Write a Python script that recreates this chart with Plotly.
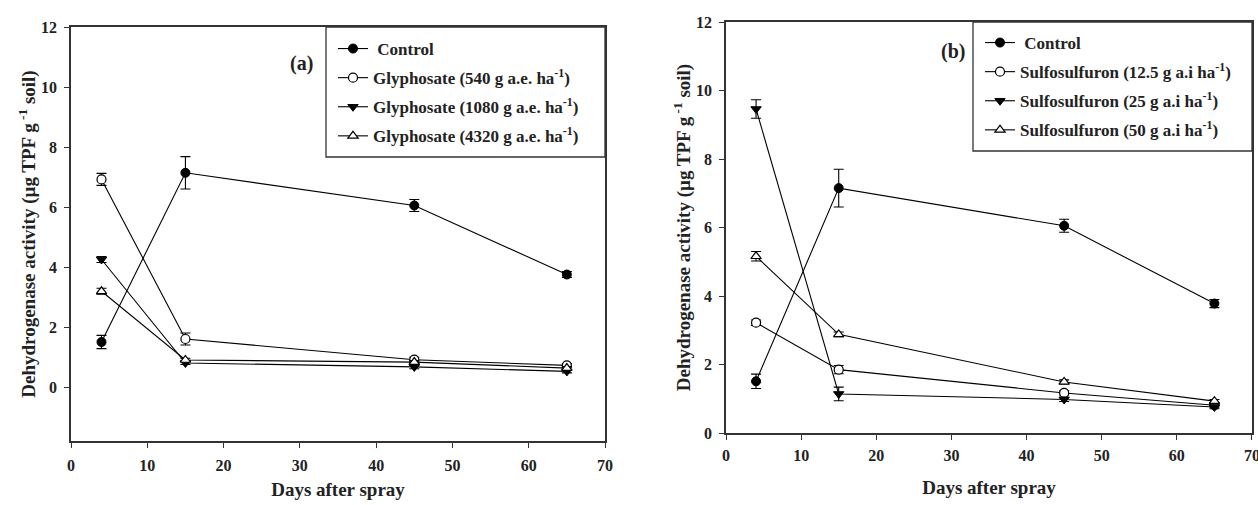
import plotly.graph_objects as go

days = [4, 15, 45, 65]

# Panel (a) - Glyphosate
a_names = ["&nbsp;Control",
           "Glyphosate (540 g a.e. ha<sup>-1</sup>)",
           "Glyphosate (1080 g a.e. ha<sup>-1</sup>)",
           "Glyphosate (4320 g a.e. ha<sup>-1</sup>)"]
a_control = [1.50, 7.14, 6.05, 3.75]
a_control_err = [0.22, 0.54, 0.20, 0.10]
a_gly540 = [6.92, 1.60, 0.91, 0.72]
a_gly540_err = [0.20, 0.20, 0.08, 0.06]
a_gly1080 = [4.25, 0.80, 0.67, 0.52]
a_gly1080_err = [0.10, 0.05, 0.06, 0.05]
a_gly4320 = [3.19, 0.90, 0.83, 0.63]
a_gly4320_err = [0.10, 0.06, 0.05, 0.05]

# Panel (b) - Sulfosulfuron
b_names = ["&nbsp;Control",
           "Sulfosulfuron (12.5 g a.i ha<sup>-1</sup>)",
           "Sulfosulfuron (25 g a.i ha<sup>-1</sup>)",
           "Sulfosulfuron (50 g a.i ha<sup>-1</sup>)"]
b_control = [1.51, 7.15, 6.05, 3.78]
b_control_err = [0.21, 0.55, 0.19, 0.12]
b_sul125 = [3.22, 1.85, 1.17, 0.81]
b_sul125_err = [0.08, 0.12, 0.06, 0.05]
b_sul25 = [9.46, 1.14, 0.98, 0.76]
b_sul25_err = [0.27, 0.20, 0.06, 0.05]
b_sul50 = [5.16, 2.88, 1.49, 0.93]
b_sul50_err = [0.14, 0.07, 0.06, 0.05]

x_ticks = [0, 10, 20, 30, 40, 50, 60, 70]
y_ticks = [0, 2, 4, 6, 8, 10, 12]

FONT = "Liberation Serif"
W, H = 1258, 505

symbols = [
    dict(symbol="circle", color="black", line=dict(color="black", width=1)),
    dict(symbol="circle", color="white", line=dict(color="black", width=1.2)),
    dict(symbol="triangle-down", color="black", line=dict(color="black", width=1)),
    dict(symbol="triangle-up", color="white", line=dict(color="black", width=1.2)),
]

fig = go.Figure()

def add_panel(names, ys, errs, xa, ya, legend):
    for i, (nm, y, e) in enumerate(zip(names, ys, errs)):
        m = symbols[i]
        fig.add_trace(go.Scatter(
            x=days, y=y, name=nm, mode="lines+markers",
            xaxis=xa, yaxis=ya, legend=legend,
            legendgroup=legend + str(i),
            line=dict(color="black", width=1.1),
            marker=dict(symbol=m["symbol"], size=9, color=m["color"], line=m["line"]),
            error_y=dict(type="data", array=e, visible=True, color="black",
                         thickness=1.1, width=5),
        ))

add_panel(a_names, [a_control, a_gly540, a_gly1080, a_gly4320],
          [a_control_err, a_gly540_err, a_gly1080_err, a_gly4320_err], "x", "y", "legend")
add_panel(b_names, [b_control, b_sul125, b_sul25, b_sul50],
          [b_control_err, b_sul125_err, b_sul25_err, b_sul50_err], "x2", "y2", "legend2")

def px_x(p):
    return p / W

def px_y(p):
    return 1 - p / H

axis_common = dict(showline=True, linecolor="#333", linewidth=1.5, mirror=True,
                   ticks="outside", ticklen=5, tickwidth=1.2, tickcolor="#333",
                   showgrid=False, zeroline=False, automargin=False,
                   ticklabeloverflow="allow",
                   tickfont=dict(family=FONT, size=16, color="#222", weight="bold"))

ytitle = "Dehydrogenase activity (µg TPF g<sup> -1</sup> soil)"
xtitle = "Days after spray"
title_font = dict(family=FONT, size=19, color="#222", weight="bold")
legend_font = dict(family=FONT, size=17, color="#222", weight="bold")

fig.update_layout(
    width=W, height=H,
    margin=dict(l=0, r=0, t=0, b=0),
    paper_bgcolor="white", plot_bgcolor="white",
    showlegend=True,
    xaxis=dict(domain=[px_x(71), px_x(605)], range=[0, 70], tickvals=x_ticks,
               anchor="y", ticklabelstandoff=4,
               title=dict(text=xtitle, font=title_font, standoff=10), **axis_common),
    yaxis=dict(domain=[px_y(441), px_y(27)], range=[-1.8, 12], tickvals=y_ticks,
               anchor="x", ticklabelstandoff=4,
               title=dict(text=ytitle, font=title_font, standoff=0), **axis_common),
    xaxis2=dict(domain=[px_x(726), px_x(1252)], range=[0, 70.001], tickvals=x_ticks,
                anchor="y2", ticklabelstandoff=2,
                title=dict(text=xtitle, font=title_font, standoff=18), **axis_common),
    yaxis2=dict(domain=[px_y(433), px_y(22)], range=[0, 12], tickvals=y_ticks,
                anchor="x2", ticklabelstandoff=4,
                title=dict(text=ytitle, font=title_font, standoff=0), **axis_common),
    legend=dict(x=px_x(333), y=px_y(31), xanchor="left", yanchor="top",
                bgcolor="rgba(0,0,0,0)", borderwidth=0, tracegroupgap=4,
                itemwidth=30, font=legend_font),
    legend2=dict(x=px_x(980), y=px_y(25), xanchor="left", yanchor="top",
                 bgcolor="rgba(0,0,0,0)", borderwidth=0, tracegroupgap=4,
                 itemwidth=30, font=legend_font),
    shapes=[
        dict(type="rect", xref="paper", yref="paper",
             x0=px_x(326), x1=px_x(605), y0=px_y(157), y1=px_y(27),
             line=dict(color="#333", width=1.3), fillcolor="rgba(0,0,0,0)"),
        dict(type="rect", xref="paper", yref="paper",
             x0=px_x(973), x1=px_x(1252), y0=px_y(151), y1=px_y(22),
             line=dict(color="#333", width=1.3), fillcolor="rgba(0,0,0,0)"),
    ],
    annotations=[
        dict(text="(a)", x=px_x(301), y=px_y(63), xref="paper", yref="paper",
             xanchor="center", yanchor="middle",
             showarrow=False, font=dict(family=FONT, size=20, color="#222", weight="bold")),
        dict(text="(b)", x=px_x(953), y=px_y(52), xref="paper", yref="paper",
             xanchor="center", yanchor="middle",
             showarrow=False, font=dict(family=FONT, size=20, color="#222", weight="bold")),
    ],
)

fig.write_html("out.html", config={"displayModeBar": False},
               post_script="document.body.style.margin='0';")
